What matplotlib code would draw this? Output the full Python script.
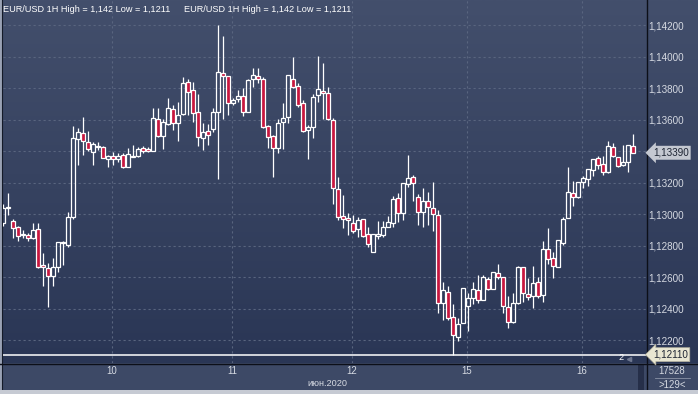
import matplotlib
matplotlib.use("Agg")
import matplotlib.pyplot as plt
import numpy as np
from matplotlib.patches import Rectangle

plt.rcParams['font.family'] = ['Liberation Sans', 'DejaVu Sans']

# ---------------- data ----------------
title = "EUR/USD 1H High = 1,142 Low = 1,1211"

opens = [1.12945, 1.13040, 1.12957, 1.12919, 1.12869, 1.12869, 1.12850, 1.12907, 1.12678, 1.12659,
         1.12609, 1.12666, 1.12818, 1.12805, 1.12983, 1.13477, 1.13515, 1.13458, 1.13395, 1.13427,
         1.13427, 1.13350, 1.13370, 1.13350, 1.13376, 1.13300, 1.13363, 1.13370, 1.13420, 1.13414,
         1.13401, 1.13604, 1.13496, 1.13572, 1.13667, 1.13579, 1.13636, 1.13839, 1.13788, 1.13648,
         1.13484, 1.13528, 1.13541, 1.13648, 1.13896, 1.13877, 1.13706, 1.13731, 1.13750, 1.13648,
         1.13858, 1.13877, 1.13858, 1.13560, 1.13496, 1.13420, 1.13585, 1.13617, 1.13858, 1.13813,
         1.13706, 1.13534, 1.13553, 1.13756, 1.13782, 1.13769, 1.13598, 1.13160, 1.12989, 1.12976,
         1.12945, 1.12907, 1.12970, 1.12875, 1.12761, 1.12862, 1.12869, 1.12919, 1.12945, 1.13103,
         1.13008, 1.13192, 1.13236, 1.13110, 1.13014, 1.13084, 1.13040, 1.12995, 1.12438, 1.12507,
         1.12349, 1.12222, 1.12311, 1.12419, 1.12469, 1.12520, 1.12457, 1.12590, 1.12526, 1.12628,
         1.12602, 1.12412, 1.12317, 1.12438, 1.12666, 1.12495, 1.12482, 1.12571, 1.12488, 1.12780,
         1.12723, 1.12666, 1.12818, 1.12976, 1.13135, 1.13110, 1.13205, 1.13224, 1.13281, 1.13357,
         1.13319, 1.13268, 1.13427, 1.13363, 1.13312, 1.13331, 1.13433]

highs = [1.13065, 1.13135, 1.12970, 1.12926, 1.12900, 1.12881, 1.12945, 1.12945, 1.12755, 1.12691,
         1.12723, 1.12824, 1.12831, 1.13014, 1.13560, 1.13547, 1.13617, 1.13528, 1.13458, 1.13458,
         1.13433, 1.13376, 1.13395, 1.13389, 1.13389, 1.13420, 1.13439, 1.13427, 1.13433, 1.13427,
         1.13674, 1.13674, 1.13604, 1.13737, 1.13693, 1.13712, 1.13870, 1.13858, 1.13839, 1.13763,
         1.13579, 1.13572, 1.13674, 1.14200, 1.14130, 1.13877, 1.13737, 1.13788, 1.13801, 1.13858,
         1.13927, 1.13927, 1.13870, 1.13566, 1.13503, 1.13604, 1.13706, 1.13883, 1.13997, 1.13832,
         1.13725, 1.13566, 1.13763, 1.14003, 1.13959, 1.13807, 1.13610, 1.13236, 1.13122, 1.13008,
         1.12995, 1.12983, 1.12970, 1.12919, 1.12875, 1.12957, 1.12957, 1.12989, 1.13116, 1.13135,
         1.13198, 1.13376, 1.13249, 1.13129, 1.13167, 1.13141, 1.13205, 1.13027, 1.12571, 1.12545,
         1.12431, 1.12342, 1.12533, 1.12501, 1.12571, 1.12615, 1.12615, 1.12602, 1.12634, 1.12685,
         1.12602, 1.12482, 1.12501, 1.12672, 1.12666, 1.12596, 1.12672, 1.12602, 1.12831, 1.12913,
         1.12761, 1.12837, 1.12983, 1.13300, 1.13211, 1.13205, 1.13243, 1.13287, 1.13350, 1.13370,
         1.13370, 1.13465, 1.13452, 1.13363, 1.13439, 1.13439, 1.13509]

lows = [1.12926, 1.12995, 1.12850, 1.12831, 1.12850, 1.12831, 1.12843, 1.12659, 1.12545, 1.12412,
        1.12545, 1.12634, 1.12678, 1.12793, 1.12970, 1.13312, 1.13376, 1.13401, 1.13312, 1.13408,
        1.13357, 1.13300, 1.13312, 1.13331, 1.13294, 1.13300, 1.13363, 1.13363, 1.13389, 1.13395,
        1.13401, 1.13490, 1.13414, 1.13566, 1.13534, 1.13465, 1.13629, 1.13629, 1.13585, 1.13433,
        1.13408, 1.13439, 1.13522, 1.13224, 1.13604, 1.13629, 1.13693, 1.13712, 1.13623, 1.13648,
        1.13807, 1.13832, 1.13547, 1.13420, 1.13236, 1.13389, 1.13414, 1.13579, 1.13801, 1.13680,
        1.13522, 1.13350, 1.13484, 1.13712, 1.13604, 1.13598, 1.13065, 1.12964, 1.12913, 1.12869,
        1.12881, 1.12856, 1.12856, 1.12793, 1.12761, 1.12843, 1.12856, 1.12919, 1.12919, 1.12951,
        1.12964, 1.13173, 1.13084, 1.12932, 1.12919, 1.12932, 1.12894, 1.12374, 1.12330, 1.12330,
        1.12110, 1.12197, 1.12311, 1.12260, 1.12431, 1.12438, 1.12457, 1.12520, 1.12526, 1.12590,
        1.12374, 1.12279, 1.12311, 1.12431, 1.12444, 1.12457, 1.12406, 1.12469, 1.12444, 1.12685,
        1.12596, 1.12666, 1.12805, 1.12976, 1.13052, 1.13103, 1.13167, 1.13179, 1.13243, 1.13287,
        1.13249, 1.13262, 1.13363, 1.13300, 1.13306, 1.13268, 1.13390]

closes = [1.13040, 1.13046, 1.12913, 1.12862, 1.12875, 1.12850, 1.12900, 1.12666, 1.12666, 1.12609,
          1.12666, 1.12824, 1.12824, 1.12983, 1.13484, 1.13522, 1.13465, 1.13414, 1.13446, 1.13433,
          1.13357, 1.13370, 1.13350, 1.13370, 1.13300, 1.13382, 1.13370, 1.13414, 1.13401, 1.13401,
          1.13610, 1.13496, 1.13585, 1.13674, 1.13579, 1.13629, 1.13832, 1.13775, 1.13642, 1.13490,
          1.13522, 1.13503, 1.13648, 1.13902, 1.13877, 1.13706, 1.13725, 1.13750, 1.13648, 1.13851,
          1.13883, 1.13858, 1.13553, 1.13490, 1.13420, 1.13579, 1.13610, 1.13883, 1.13807, 1.13693,
          1.13528, 1.13553, 1.13744, 1.13794, 1.13769, 1.13604, 1.13167, 1.12983, 1.12970, 1.12964,
          1.12894, 1.12964, 1.12862, 1.12812, 1.12875, 1.12875, 1.12919, 1.12951, 1.13097, 1.13008,
          1.13198, 1.13230, 1.13198, 1.13014, 1.13084, 1.13046, 1.13002, 1.12438, 1.12520, 1.12342,
          1.12235, 1.12304, 1.12533, 1.12469, 1.12526, 1.12457, 1.12602, 1.12526, 1.12634, 1.12602,
          1.12419, 1.12317, 1.12438, 1.12666, 1.12501, 1.12476, 1.12564, 1.12482, 1.12780, 1.12716,
          1.12672, 1.12837, 1.12970, 1.13141, 1.13110, 1.13205, 1.13230, 1.13287, 1.13350, 1.13312,
          1.13268, 1.13433, 1.13370, 1.13306, 1.13331, 1.13439, 1.13390]

day_ticks = [21.8, 45.8, 69.8, 92.8, 115.8]
day_labels = ["10", "11", "12", "15", "16"]
month_label = "июн.2020"
y_ticks = [1.122, 1.124, 1.126, 1.128, 1.130, 1.132, 1.134, 1.136, 1.138, 1.140, 1.142]
last_price = 1.13390
low_price = 1.12110
bars_count = "17528"
scale_label = ">129<"
low_marker = "2"

# ---------------- styling ----------------
W, H = 698, 394
TXT = '#d6dae2'
RED = '#c8173f'
FS = 6.6
FSY = 7.1

fig = plt.figure(figsize=(W / 100, H / 100), dpi=100, facecolor='#c6cad3')

# background panel in pixel coordinates
bg = fig.add_axes([0, 4 / H, 1, 390 / H])
bg.axis('off')
g = np.linspace(0, 1, 256)[:, None, None]
top = np.array([0x43, 0x4f, 0x6c]) / 255
bot = np.array([0x2a, 0x36, 0x55]) / 255
img = top + (bot - top) * g
bg.imshow(img, extent=(0, W, 363, 0), aspect='auto', interpolation='bilinear')
bg.add_patch(Rectangle((0, 363), W, 27, color='#3d4966', lw=0))
bg.add_patch(Rectangle((638, 364), 6, 26, color='#262f49', lw=0))
bg.add_patch(Rectangle((0, 0), 1.5, 390, color='#9aa2b4', lw=0))
bg.plot([2, 2], [0, 390], color='#141a28', lw=0.8)
bg.plot([0, W], [363.5, 363.5], color='#0c0f18', lw=1.0)
bg.plot([646.5, 646.5], [0, 390], color='#0c0f18', lw=1.0)
bg.plot([655, 690], [378, 378], color='#8a92a6', lw=0.6)
bg.set_xlim(0, W)
bg.set_ylim(390, 0)

bg.text(3, 9, title, color='white', fontsize=FS, va='center', ha='left')
bg.text(184, 9, title, color='white', fontsize=FS, va='center', ha='left')
bg.text(327, 384, month_label, color=TXT, fontsize=FS, va='center', ha='center')
bg.text(672, 371, bars_count, color=TXT, fontsize=FS + 0.3, va='center', ha='center')
bg.text(672, 385, scale_label, color=TXT, fontsize=FS + 0.3, va='center', ha='center')
bg.text(621, 358, low_marker, color='white', fontsize=FS, va='center', ha='center')
bg.plot([629], [358.5], marker='<', color='#6f7890', ms=3)

# main chart axes
ax = fig.add_axes([2.5 / W, 31 / H, 643.5 / W, 363 / H])
ax.patch.set_alpha(0)
ax.set_xlim(-0.1, 128.6)
ax.set_ylim(1.120571, 1.143585)
for s in ax.spines.values():
    s.set_visible(False)

ax.set_yticks(y_ticks)
# the tick label hidden behind the last-price marker is left blank, as in the terminal
ax.set_yticklabels(["" if abs(v - last_price) < 0.0012 else f"{v:.5f}".replace('.', ',')
                    for v in y_ticks])
ax.yaxis.tick_right()
ax.set_xticks(day_ticks)
ax.set_xticklabels(day_labels)
ax.tick_params(axis='both', length=0, colors=TXT, labelsize=FS + 0.3)
ax.tick_params(axis='y', pad=1.8, labelsize=FSY)
ax.tick_params(axis='x', pad=2.5)
ax.grid(True, color='#59657f', lw=0.8, linestyle=(0, (2, 2.5)))
ax.set_axisbelow(True)

# low line
ax.axhline(low_price, color='white', lw=1.1, zorder=2)

# candles
bw = 0.66
for i, (o, h, l, c) in enumerate(zip(opens, highs, lows, closes)):
    lo, hi = min(o, c), max(o, c)
    if h > hi:
        ax.vlines(i, hi, h, color='white', lw=0.9, zorder=3)
    if l < lo:
        ax.vlines(i, l, lo, color='white', lw=0.9, zorder=3)
    fc = RED if c < o else 'none'
    ax.add_patch(Rectangle((i - bw / 2, lo), bw, max(hi - lo, 1e-6),
                           facecolor=fc, edgecolor='white', lw=0.9, zorder=4))

# price labels on the right axis
ax.annotate(f"{last_price:.5f}".replace('.', ','), xy=(1.0, last_price),
            xycoords=('axes fraction', 'data'), xytext=(5, 0), textcoords='offset points',
            ha='left', va='center', fontsize=FSY, color='#1c2332',
            bbox=dict(boxstyle='larrow,pad=0.2', fc='#c4c8d1', ec='none'),
            annotation_clip=False)
ax.annotate(f"{low_price:.5f}".replace('.', ','), xy=(1.0, low_price),
            xycoords=('axes fraction', 'data'), xytext=(5, 0), textcoords='offset points',
            ha='left', va='center', fontsize=FSY, color='#1c2332',
            bbox=dict(boxstyle='larrow,pad=0.2', fc='#e8e6d2', ec='#b0ae9c', lw=0.5),
            annotation_clip=False)

fig.savefig('out.png', dpi=100, facecolor=fig.get_facecolor())
